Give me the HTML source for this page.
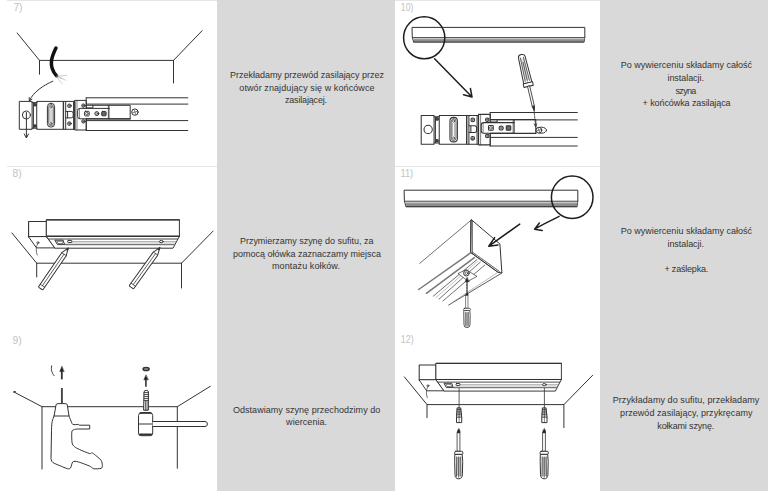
<!DOCTYPE html>
<html lang="pl">
<head>
<meta charset="utf-8">
<title>Instrukcja montażu szynoprzewodu</title>
<style>
html,body{margin:0;padding:0;background:#fff;}
body{width:768px;height:491px;overflow:hidden;font-family:"Liberation Sans",sans-serif;}
svg{display:block;}
.t{font-family:"Liberation Sans",sans-serif;font-size:9px;fill:#333;text-anchor:middle;}
.n{font-family:"Liberation Sans",sans-serif;font-size:10.3px;fill:#c2c2c2;}
.l{stroke:#333;stroke-width:1;fill:none;stroke-linecap:round;stroke-linejoin:round;}
.w{fill:#fff;}
</style>
</head>
<body>
<svg width="768" height="491" viewBox="0 0 768 491">
<defs>
<!-- track end-feed, top view (panel 7 coordinates) -->
<g id="feed" class="l">
 <rect x="19.7" y="101.4" width="12.4" height="27.9" class="w"/>
 <circle cx="26.4" cy="115" r="4"/>
 <path d="M32.1 102.6H37.1M32.1 128.2H37.1M33.4 102.6V128.2"/>
 <circle cx="35" cy="104.8" r="1.3" fill="#555"/><circle cx="35" cy="126" r="1.3" fill="#555"/>
 <rect x="37.1" y="101.4" width="26.5" height="27.9"/>
 <rect x="47.4" y="103.3" width="7.2" height="23.8" rx="3.4"/>
 <rect x="48.7" y="104.6" width="4.6" height="21.2" rx="2.3" stroke-width="0.7"/>
 <circle cx="51" cy="106.9" r="1.1" stroke-width="0.7"/><circle cx="51" cy="123.5" r="1.1" stroke-width="0.7"/>
 <path d="M50 108.8V121.6M52 108.8V121.6" stroke-width="0.6" stroke="#777"/>
 <rect x="63.6" y="101.4" width="11.4" height="27.9"/>
 <path d="M65.7 101.4V129.3M73.6 101.4V129.3"/>
 <circle cx="69.4" cy="105.8" r="1.8"/><path d="M68.2 105.8H70.6M69.4 104.6V107" stroke-width="0.6"/>
 <circle cx="69.4" cy="123.6" r="1.8"/><path d="M68.2 123.6H70.6M69.4 122.4V124.8" stroke-width="0.6"/>
 <path d="M65.7 111.4H71.2Q73.2 111.4 73.2 113.4V115.9Q73.2 117.9 71.2 117.9H65.7M67.6 111.4V117.9"/>
 <rect x="75" y="100.4" width="11.3" height="29.6"/>
 <path d="M77 100.4V130" stroke-width="0.6"/>
 <circle cx="83.4" cy="105.6" r="1.7"/><path d="M82.2 105.6H84.6M83.4 104.4V106.8" stroke-width="0.6"/>
 <circle cx="83.4" cy="121.4" r="1.7"/><path d="M82.2 121.4H84.6M83.4 120.2V122.6" stroke-width="0.6"/>
 <!-- tongue -->
 <path d="M109.3 108.4H80Q77.6 108.4 77.6 110.8V116.4Q77.6 118.8 80 118.8H109.3" class="w"/>
 <path d="M79.4 109.4V117.8" stroke-width="0.6"/>
 <rect x="84.6" y="111.3" width="4.6" height="4.6" rx="0.8"/><circle cx="86.9" cy="113.6" r="1.3" stroke-width="0.7"/>
 <circle cx="96.8" cy="113.6" r="2"/><circle cx="96.8" cy="113.6" r="0.9" stroke-width="0.6"/>
 <rect x="101.7" y="111.4" width="4.4" height="4.4" rx="0.8" fill="#666"/>
 <path d="M87 105.3H92.9V107.9H87M92.9 105.3H109.3" />
 <rect x="109.3" y="105.3" width="20.9" height="13.6"/>
 <path d="M108.3 106V118.4" stroke-width="0.6"/>
 <path d="M86.3 118.9H130.2" stroke-width="1.2"/>
</g>

<!-- rail seen from below, 3D (panel 8 coordinates) -->
<g id="rail3d" class="l">
 <path d="M28.6 221.5H46.6V236.9H28.6Z" class="w" stroke-width="1.1"/>
 <path d="M28.6 236.9L36.5 247.9H55.3L46.6 236.9Z" class="w"/>
 <path d="M46.6 219.8H179.4V236.3H46.6Z" class="w"/>
 <path d="M46.6 236.3H179.4L173 248.2H55.3Z" class="w"/>
 <path d="M46.6 219.8H179.4M46.6 236.3H179.4" stroke-width="1.15"/>
 <path d="M48.6 239H177.6" stroke-width="0.9"/>
 <path d="M72 241.8H176.2" stroke="#777" stroke-width="0.8"/>
 <path d="M64.6 244.5H175" stroke="#777" stroke-width="1.7" stroke-linecap="butt"/>
 <path d="M55.3 240.2H63.1L64.6 244.6H57.8Z"/>
 <path d="M57.3 241.3H62.3L63 243.5H58.4Z" stroke-width="0.6"/>
 <rect x="67.7" y="240.4" width="4.1" height="2.1" rx="0.6" class="w"/>
 <ellipse cx="161.3" cy="241.6" rx="2" ry="1.1" class="w"/>
 <circle cx="37.9" cy="242.7" r="1" stroke-width="0.8"/>
 <path d="M37.5 243.8C36 247 35.6 251 37.2 255" stroke-width="0.7"/>
</g>
<g id="pencil" class="l">
 <path d="M0 0L7.4 -2.7H48Q49 -2.7 49 -1.7V1.7Q49 2.7 48 2.7H7.4Z" class="w"/>
 <path d="M7.4 -2.7V2.7M45.6 -2.7V2.7M7.4 0H45.6" stroke-width="0.7"/>
 <path d="M0 0L2.2 -0.8V0.8Z" fill="#333"/>
</g>

<!-- screwdriver pointing up: tip at 0,0 -->
<g id="sdrv" class="l">
 <rect x="-1.2" y="3.6" width="2.4" height="19" class="w" stroke-width="0.8"/>
 <path d="M0 0L-1.3 2.2V4.2H1.3V2.2Z" fill="#222" stroke-width="0.6"/>
 <rect x="-4.1" y="22.6" width="8.2" height="3.1" rx="1.1" class="w"/>
 <path d="M-3.5 25.7H3.5L4 33L3.7 46Q3.5 50.1 0 50.1Q-3.5 50.1 -3.7 46L-4 33Z" class="w"/>
 <path d="M-2 28.4H2L2.2 47.4H-2.2Z" fill="#c8c8c8" stroke="none"/>
 <path d="M-2 28.2L-2.2 47.6M0 28.2V48.6M2 28.2L2.2 47.6" stroke-width="0.8"/>
</g>
<!-- wall plug: top at 0,0 -->
<g id="plug" class="l">
 <path d="M-1.6 0.3H1.6L2.6 9.5V15H-2.6V9.5Z" class="w"/>
 <path d="M-1.8 1.8H1.8M-2 3.6H2M-2.2 5.4H2.2M-2.4 7.2H2.4M-2.6 9.5H2.6" stroke-width="0.9"/>
 <path d="M0 0.3V9.5" stroke-width="0.7"/>
 <path d="M0 9.5V15" stroke-width="0.6"/>
</g>

<!-- angled screwdriver (panel 10), handle top-left, tip bottom-right: drawn along +x from handle end at 0,0 -->
<g id="sdrv2" class="l">
 <path d="M2.5 -3.4L29 -4.2V4.2L2.5 3.4Q0 3.2 0 0Q0 -3.2 2.5 -3.4Z" class="w"/>
 <path d="M4 -1.6L26 -2.2V2.2L4 1.6Z" fill="#d8d8d8" stroke="none"/>
 <path d="M3 -1.6L27 -2.2M3 1.6L27 2.2M8 0H27" stroke-width="0.7"/>
 <path d="M29 -4.8H32.6V4.8H29Z" class="w"/>
 <path d="M32.6 -1.1H53L57.4 0L53 1.1H32.6Z" class="w" stroke-width="0.8"/>
 <path d="M53 -1.1L57.4 0L53 1.1Z" fill="#222" stroke-width="0.6"/>
</g>
</defs>
<!-- backgrounds -->
<rect x="0" y="0" width="768" height="491" fill="#fff"/>
<rect x="217" y="0" width="178" height="491" fill="#d9d9d9"/>
<rect x="600" y="0" width="168" height="491" fill="#d9d9d9"/>
<!-- separators -->
<g stroke="#e6e6e6" stroke-width="1" fill="none">
<path d="M7 0.5H217M395 0.5H600M7 166.5H217M395 166.5H600"/>
</g>
<!-- step numbers -->
<text class="n" x="13.4" y="11">7)</text>
<text class="n" x="12.6" y="177">8)</text>
<text class="n" x="12.6" y="343.5">9)</text>
<text class="n" x="400.8" y="10.9" textLength="12.6" lengthAdjust="spacingAndGlyphs">10)</text>
<text class="n" x="400.4" y="176.6" textLength="12.8" lengthAdjust="spacingAndGlyphs">11)</text>
<text class="n" x="400.8" y="343.2" textLength="12.8" lengthAdjust="spacingAndGlyphs">12)</text>

<!-- descriptions -->
<g class="t">
<text x="307" y="78.2" textLength="154" lengthAdjust="spacing">Przekładamy przewód zasilający przez</text>
<text x="306.9" y="90.7" textLength="135.2" lengthAdjust="spacing">otwór znajdujący się w końcówce</text>
<text x="306" y="103.1" textLength="42.1" lengthAdjust="spacing">zasilającej.</text>

<text x="306.7" y="243.9" textLength="133.5" lengthAdjust="spacing">Przymierzamy szynę do sufitu, za</text>
<text x="307" y="256.8" textLength="148" lengthAdjust="spacing">pomocą ołówka zaznaczamy miejsca</text>
<text x="306" y="269.2" textLength="68" lengthAdjust="spacing">montażu kołków.</text>

<text x="306.6" y="412.9" textLength="147.4" lengthAdjust="spacing">Odstawiamy szynę przechodzimy do</text>
<text x="306.6" y="425.3" textLength="41" lengthAdjust="spacing">wiercenia.</text>

<text x="686.4" y="68.0" textLength="131.2" lengthAdjust="spacing">Po wywierceniu składamy całość</text>
<text x="685.7" y="81.2" textLength="36.5" lengthAdjust="spacing">instalacji.</text>
<text x="685.9" y="93.6" textLength="20.8" lengthAdjust="spacing">szyna</text>
<text x="686.6" y="106.1" textLength="88" lengthAdjust="spacing">+ końcówka zasilająca</text>

<text x="686.4" y="234.1" textLength="131.2" lengthAdjust="spacing">Po wywierceniu składamy całość</text>
<text x="685.7" y="247.0" textLength="36.5" lengthAdjust="spacing">instalacji.</text>
<text x="686.4" y="272.2" textLength="43.8" lengthAdjust="spacing">+ zaślepka.</text>

<text x="686" y="402.8" textLength="146.6" lengthAdjust="spacing">Przykładamy do sufitu, przekładamy</text>
<text x="686.3" y="416.2" textLength="132.4" lengthAdjust="spacing">przewód zasilający, przykręcamy</text>
<text x="685.8" y="428.6" textLength="57" lengthAdjust="spacing">kołkami szynę.</text>
</g>


<!-- PANEL 7 -->
<g class="l">
 <path d="M17.2 33L39.5 60.4H173.5L202.1 30.7M39.5 60.4V74.2M173.5 60.4V83"/>
 <path d="M56 48C53 54.5 47 65 56.4 75.6" stroke="#111" stroke-width="3.5"/>
 <path d="M56.6 76C60 76 63 76 66.6 75.2M57 76.5C60 78 63 79 65.9 80.2M57 77C59 80 60.5 82 62.3 83.8M58 76C60 77.5 61 78 62 78.4" stroke="#999" stroke-width="0.5"/>
 <path d="M52.8 81.2C43 85.5 33.5 92 29.4 100.6M29.2 97.6L29.3 100.9L31.9 99.2"/>
 <path d="M86.2 97.8H187.8M87 104.1H187.8M86.2 120.6H187.8M86.2 130.5H187.8M86.2 97.8V130.5"/>
</g>
<use href="#feed"/>
<g class="l"><circle cx="134.9" cy="112.1" r="3.2"/><path d="M132.6 112.9L137.2 111.3M134.1 109.9L135.7 114.3" stroke-width="0.6"/></g>
<path class="l" d="M26.4 112.5V137.6M24.3 134L26.4 138L28.5 134"/>


<!-- PANEL 8 -->
<g class="l">
 <path d="M11.9 232.9L36.7 263.2H181.5L213.1 231.1M36.7 263.2V277M181.5 263.2V288"/>
</g>
<use href="#rail3d"/>
<use href="#pencil" transform="translate(68.2 248.1) rotate(124.4)"/>
<use href="#pencil" transform="translate(159.8 247.6) rotate(125.6)"/>


<!-- PANEL 9 -->
<g class="l">
 <path d="M14 392L42 406.7H177.3L210.3 386.3M42 406.7V469M177.3 406.7V468.2"/>
 <path d="M14 392l1.2 -0.3" stroke-width="1.4"/>
 <!-- drill -->
 <path d="M61.9 388V403.6" stroke-width="1.9" stroke="#444" stroke-linecap="butt"/>
 <path d="M57.6 403.6Q56.3 403.6 56 405L54.1 416.0C53.8 416.8 52.6 419.4 52.2 421.4C51.9 423.3 51.6 425.5 51.5 430.5L51.0 458.6Q51.2 461.6 53.0 462.6C54.2 463.4 57.9 464.9 59.9 465.7C61.8 466.5 66.1 468.4 67.5 468.7C68.9 469.0 69.8 468.9 70.5 468.0C71.3 467.1 71.8 462.7 72.8 461.9C73.9 461.0 75.8 461.2 78.2 461.9C80.5 462.5 88.4 465.5 90.4 466.4C92.4 467.4 92.0 468.5 93.5 468.7C94.9 469.0 99.9 468.8 101.1 468.4C102.3 468.0 102.3 466.8 102.3 465.7C102.3 464.6 102.2 461.9 101.1 460.3C100.0 458.8 95.4 455.2 94.2 454.2C93.0 453.2 92.5 452.8 91.9 452.7C91.3 452.6 91.3 453.9 89.6 453.5C88.0 453.1 81.7 450.6 79.7 449.6C77.7 448.7 75.4 447.5 74.4 446.6C73.3 445.7 72.4 444.7 72.1 442.8C71.7 440.8 71.6 433.8 71.8 432.1C72.0 430.3 72.7 430.2 73.6 429.8C74.5 429.4 76.0 429.1 78.2 429.0L89.7 429V425.2H79.7C78.2 425.1 79.1 424.5 78.2 424.4C77.3 424.3 73.9 425.0 72.8 424.4C71.8 423.8 71.1 421.0 70.5 419.9C70.0 418.7 69.2 416.5 69.0 416.0L67.3 405Q67 403.6 65.6 403.6Z" class="w"/>
 <path d="M54 416H69"/>
 <path d="M61.8 370V379.4" stroke-width="1.8" stroke-linecap="butt"/>
 <path d="M61.8 366.6L59.8 371.6H63.8Z" fill="#222" stroke-width="0.6"/>
 <path d="M51.6 365.8C50.8 369.5 51.6 373 54.2 375.8" stroke-width="0.9"/>
 <!-- hammer -->
 <ellipse cx="146.1" cy="369" rx="3" ry="1.6" stroke-width="1.5" fill="#999"/>
 <path d="M145.9 378V386.8" stroke-width="1.6" stroke-linecap="butt"/>
 <path d="M145.9 375.2L143.8 379.8H148Z" fill="#222" stroke-width="0.6"/>
 <path d="M144 392Q144 390.3 146.2 390.3Q148.4 390.3 148.4 392V410.2H144Z" class="w"/>
 <path d="M144 392.6H148.4M144 394.6H148.4M144 396.6H148.4M144 398.6H148.4M144 400.6H148.4" stroke-width="0.9"/>
 <path d="M145.4 401V410.2M147 401V410.2" stroke-width="0.8"/>
 <rect x="138.5" y="412.9" width="14.2" height="22.8" rx="2.6" class="w"/>
 <path d="M140.4 412.9H150.8" stroke-width="1.6"/>
 <path d="M138.5 424H152.7"/>
 <path d="M140 434.6H151.2" stroke-width="2"/>
 <path d="M152.7 421.5H205Q207.4 421.5 207.4 424Q207.4 426.5 205 426.5H152.7" class="w"/>
</g>


<!-- PANEL 12 -->
<g class="l">
 <path d="M404.4 376.9L427 404.6H563.9L592.6 375.3M427 404.6V417.6M563.9 404.6V427.6"/>
</g>
<use href="#rail3d" transform="translate(419.2 363.4) scale(0.943 0.975) translate(-28.6 -219.8)"/>
<g class="l"><path d="M459.1 388.5V407.6M544.4 388.5V407.6" stroke-width="0.8"/></g>
<use href="#plug" transform="translate(459.1 407.6)"/>
<use href="#plug" transform="translate(544.4 407.6)"/>
<use href="#sdrv" transform="translate(458.7 428.7)"/>
<use href="#sdrv" transform="translate(544.2 428.7)"/>


<!-- PANEL 10 -->
<g class="l">
 <path d="M412.4 27.4H584.8V37.5L584 42H413.6L412.4 37.5Z" class="w"/>
 <path d="M413.4 37.7H584.4L583.8 41.6H414Z" fill="#8c8c8c" stroke="none"/>
 <path d="M413.2 37.9H584.4V39.2H413.5Z" fill="#c8c8c8" stroke="none"/>
 <path d="M412.4 37.5H584.8M413.6 42H584" stroke-width="0.8"/>
 <ellipse cx="424.2" cy="37.8" rx="20.6" ry="21" stroke="#1e1e1e" stroke-width="1.5"/>
 <path d="M434.6 58.8L472 97M463.5 94.8L472 97L470.4 88.4" stroke="#1e1e1e" stroke-width="1.5"/>
 <!-- track body -->
 <path d="M490.2 112.5H577.3M491 119.9H577.3M490.2 137.4H577.3M490.2 146H577.3M490.2 112.5V146"/>
</g>
<use href="#feed" transform="translate(421.2 111.7) scale(1.037 1.03) translate(-19.7 -97.8)"/>
<use href="#sdrv2" transform="translate(521.2 54.6) rotate(76.8)"/>
<g class="l">
 <path d="M534 110L535.6 126.5" stroke-width="0.8" stroke-dasharray="2 1.2"/>
 <path d="M534.2 124L535.7 127L536.8 123.8" stroke-width="0.8"/>
 <ellipse cx="541.6" cy="130.2" rx="4.9" ry="3" class="w"/>
 <circle cx="538.9" cy="130.2" r="2.9" class="w"/><path d="M536.8 130.9L541 129.5M538.2 128.2L539.6 132.2" stroke-width="0.6"/>
</g>


<!-- PANEL 11 -->
<g class="l">
 <path d="M404.5 190.2H577.8V201.2L577 206.7H406L404.5 201.2Z" class="w"/>
 <path d="M405.6 201.5H577.4L576.8 206.3H406.4Z" fill="#8c8c8c" stroke="none"/>
 <path d="M405.4 201.6H577.4V203.2H405.8Z" fill="#c8c8c8" stroke="none"/>
 <path d="M404.5 201.2H577.8M406 206.7H577" stroke-width="0.8"/>
 <ellipse cx="572.2" cy="197.25" rx="20.8" ry="21.2" stroke="#1e1e1e" stroke-width="1.5"/>
 <path d="M559.1 216.4C552 220 543 224 534.6 229.2M539.4 223L534.6 229.2L542.2 230.6" stroke="#1e1e1e" stroke-width="1.5"/>
 <!-- end cap 3D -->
 <path d="M471.5 219.8L419.7 263.4" stroke-width="0.7"/>
 <path d="M471.5 219.8L499.9 244L501.9 273L498 272.3L471 252.7Z" class="w"/>
 <path d="M470.6 220.6V252.7M472.3 220.6V253.6" stroke-width="0.8"/>
 <path d="M471 252.7L498 272.3M472.6 252.2L499.4 271.4" stroke-width="0.8"/>
 <path d="M470.9 252.7L418.7 289.5" stroke="#777" stroke-width="1.5"/>
 <path d="M474.4 257.6L426.4 293.3" stroke="#777" stroke-width="1.5"/>
 <path d="M477 259.5L433.2 296.2M480.4 262L439 299.1M484.8 265L442.9 301" stroke-width="0.7"/>
 <path d="M477.6 261.2L436 297.6" stroke="#999" stroke-width="0.6"/>
 <path d="M501.9 273L448.7 305" stroke-width="0.8"/>
 <path d="M498 272.3L452 302.6" stroke="#888" stroke-width="0.6"/>
 <path d="M458.4 273.4L466.1 269.6L477 276.4L468.4 281Z" class="w" stroke-width="0.7"/>
 <circle cx="466.4" cy="273.2" r="2.8" class="w"/><circle cx="466.4" cy="273.2" r="1.3" stroke-width="0.7"/>
 <path d="M467 280.5V292" stroke-width="1.3" stroke-dasharray="2.2 1"/>
 <path d="M467 277.6L465.2 281.8H468.8Z" fill="#222" stroke-width="0.6"/>
</g>
<g class="l"><path d="M519.7 224.1L488.8 246.2M494.6 237.6L488.8 246.2L498 245" stroke="#1e1e1e" stroke-width="1.5"/></g>
<use href="#sdrv" transform="translate(467 292.4) scale(0.82 0.705)"/>

<!--DRAWINGS-->
</svg>
</body>
</html>
